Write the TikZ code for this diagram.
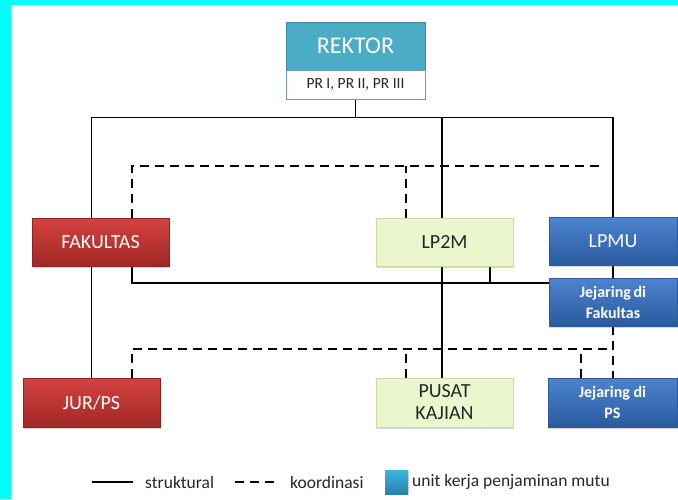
\documentclass[tikz,border=0pt]{standalone}
\usepackage{fontspec}
\setmainfont{Carlito}
\usetikzlibrary{shadows}
\definecolor{frame}{RGB}{0,255,255}
\definecolor{teal1}{RGB}{75,172,198}
\definecolor{teal2}{RGB}{58,140,168}
\definecolor{prline}{RGB}{110,150,200}
\definecolor{redtop}{RGB}{212,66,63}
\definecolor{redbot}{RGB}{160,40,38}
\definecolor{bluetop}{RGB}{76,132,206}
\definecolor{bluebot}{RGB}{42,90,158}
\definecolor{greenfill}{RGB}{236,246,204}
\definecolor{greenline}{RGB}{200,220,160}
\definecolor{legtop}{RGB}{60,182,222}
\definecolor{legbot}{RGB}{36,130,170}
\pgfdeclarelayer{bg}
\pgfdeclarelayer{ln}
\pgfsetlayers{bg,ln,main}
\tikzset{
  ubox/.style={rectangle, inner sep=0pt, minimum width=137pt, minimum height=48pt,
    align=center, font=\fontsize{20}{22}\selectfont,
    drop shadow={shadow xshift=1.2pt, shadow yshift=-1.5pt, opacity=0.3}},
  redbox/.style={ubox, top color=redtop, bottom color=redbot, draw=redbot!90!black, line width=0.4pt, text=white},
  bluebox/.style={ubox, top color=bluetop, bottom color=bluebot, draw=bluebot, line width=0.4pt, text=white, minimum width=128pt},
  greenbox/.style={ubox, fill=greenfill, draw=greenline, line width=0.8pt, text=black!85},
  jbox/.style={bluebox, font=\fontsize{16}{21}\selectfont\bfseries},
  struct/.style={line width=1.9pt, black},
  koord/.style={line width=1.9pt, black, dash pattern=on 9pt off 6pt},
  legtext/.style={anchor=west, inner sep=0pt, font=\fontsize{17.5}{20}\selectfont, text=black!85}
}
\begin{document}
\begin{tikzpicture}[x=1pt,y=-1pt]
\useasboundingbox (0,0) rectangle (678,499);
\begin{pgfonlayer}{bg}
  \fill[frame] (0,0) rectangle (678,499);
  \fill[white] (11,5) rectangle (678,499);
\end{pgfonlayer}

% nodes
\node[rectangle, inner sep=0pt, minimum width=139pt, minimum height=48pt, fill=teal1, draw=teal2, line width=0.8pt,
      text=white, font=\fontsize{24}{28}\selectfont] (rek) at (355.5,46) {REKTOR};
\node[rectangle, inner sep=0pt, minimum width=139pt, minimum height=29pt, fill=white, draw=prline, line width=0.8pt,
      text=black!85, font=\fontsize{15.5}{18}\selectfont] (pr) at (355.5,84.5) {PR I, PR II, PR III};

\node[redbox] (fak) at (100.5,242) {FAKULTAS};
\node[greenbox] (lp2m) at (444.5,242) {LP2M};
\node[bluebox] (lpmu) at (613,241.5) {LPMU};
\node[jbox] (jfak) at (613,302) {Jejaring\,di\\Fakultas};
\node[redbox, minimum height=49pt] (jur) at (91.5,402.5) {JUR/PS};
\node[greenbox, minimum height=49pt] (pusat) at (444.5,402.5) {PUSAT\\KAJIAN};
\node[jbox, minimum height=49pt, minimum width=129pt] (jps) at (612.5,402.5) {Jejaring di\\PS};

% coordinates of buses
\coordinate (bus) at (0,117.5);
\coordinate (sbus) at (0,283);
\coordinate (dbus) at (0,166);
\coordinate (dend) at (605,166);
\coordinate (dbus2) at (0,349);

\begin{pgfonlayer}{ln}
  % structural
  \draw[struct] (pr.south) -- (pr.south |- bus);
  \draw[struct] (jur.north) -- (jur.north |- bus) -- (lpmu.north |- bus) -- (lpmu.north);
  \draw[struct] ([xshift=-2.5pt]pusat.north) -- ([xshift=-2.5pt]pusat.north |- bus);
  \draw[struct] ([xshift=31.5pt]fak.south) |- (jfak.west |- sbus);
  \draw[struct] ([xshift=45.5pt]lp2m.south) -- ([xshift=45.5pt]lp2m.south |- sbus);
  \draw[struct] (lpmu.south) -- (jfak.north);
  % koordinasi
  \draw[koord] ([xshift=31.5pt]fak.north) |- (dend);
  \draw[koord] ([xshift=-38.5pt]lp2m.north) -- ([xshift=-38.5pt]lp2m.north |- dbus);
  \draw[koord] (jfak.south) -- ([xshift=0.5pt]jps.north);
  \draw[koord] ([xshift=40.5pt]jur.north) |- (jfak.south |- dbus2);
  \draw[koord] ([xshift=-38.5pt]pusat.north) -- ([xshift=-38.5pt]pusat.north |- dbus2);
  \draw[koord] ([xshift=-31.5pt]jps.north) -- ([xshift=-31.5pt]jps.north |- dbus2);
\end{pgfonlayer}

% legend
\coordinate (l1a) at (92,482);
\coordinate (l1b) at (133,482);
\draw[struct] (l1a) -- (l1b);
\node[legtext] (lt1) at (145,482) {struktural};
\coordinate (l2a) at (235,482);
\coordinate (l2b) at (275,482);
\draw[koord] (l2a) -- (l2b);
\node[legtext] (lt2) at (290,482) {koordinasi};
\node[rectangle, inner sep=0pt, minimum width=23pt, minimum height=24pt, top color=legtop, bottom color=legbot,
      drop shadow={shadow xshift=1pt, shadow yshift=-1pt, opacity=0.3}] (lsq) at (396.5,482) {};
\node[legtext] (lt3) at (412,482) {unit kerja penjaminan mutu};
\end{tikzpicture}
\end{document}
